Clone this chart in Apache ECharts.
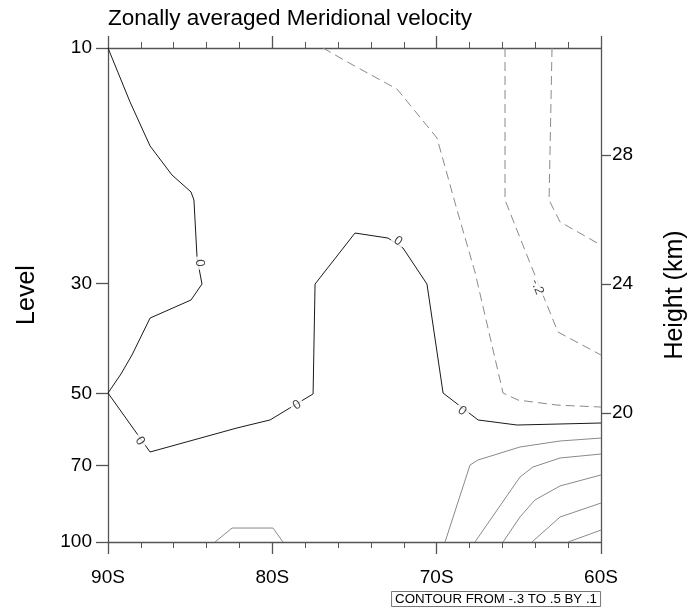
<!DOCTYPE html>
<html>
<head>
<meta charset="utf-8">
<script src="https://cdn.jsdelivr.net/npm/echarts@6/dist/echarts.min.js"></script>
<style>
  html, body { margin: 0; padding: 0; background: #ffffff; }
  #chart { width: 690px; height: 612px; }
</style>
</head>
<body>
<div id="chart"></div>
<script>
// Zonal-mean meridional velocity contours, latitude (deg, south negative) vs pressure level (hPa)

// Pressure tick levels on the left axis
const levelTicks = [10, 30, 50, 70, 100];
// Height ticks (km) on the right axis
const heightTicks = [20, 24, 28];
// Latitude ticks
const latTicks = [-90, -80, -70, -60];

// Contour 0
const zeroLat = [-90, -88.66, -87.44, -86.11, -84.95, -84.77, -84.58, -84.28, -84.95, -87.44, -88.54, -89.21, -90,
                 -87.44, -82.15, -80.14, -77.52, -77.40, -74.97, -72.96, -72.05, -70.59, -69.61, -67.48, -65.11, -60];
const zeroP   = [10, 12.86, 15.79, 18.07, 19.56, 20.31, 26.61, 30.05, 32.37, 35.21, 41.83, 45.70, 49.94,
                 65.74, 58.77, 56.62, 50.15, 30.05, 23.69, 24.25, 25.40, 30.05, 49.94, 56.62, 57.97, 57.43];

// Contour -0.1
const neg1Lat = [-76.92, -75.09, -72.41, -69.98, -68.76, -67.67, -65.96, -65.05, -62.68, -60];
const neg1P   = [10, 10.83, 12.11, 15.21, 21.28, 28.41, 49.94, 51.60, 52.82, 53.31];

// Contour -0.2
const neg2Lat = [-65.84, -65.84, -64.32, -62.62, -60];
const neg2P   = [10, 20.31, 27.24, 37.58, 41.83];

// Contour -0.3
const neg3Lat = [-62.98, -63.16, -62.49, -60];
const neg3P   = [10, 20.31, 22.50, 25.06];

// Contour 0.1 (two pieces)
const pos1aLat = [-60, -62.49, -64.93, -67.48, -67.97, -69.49];
const pos1aP   = [61.6, 62.45, 64.22, 68.23, 69.84, 100];
const pos1bLat = [-83.49, -82.45, -79.96, -79.35];
const pos1bP   = [100, 93.7, 93.7, 100];

// Contour 0.2
const pos2Lat = [-60, -62.49, -64.14, -64.93, -67.67];
const pos2P   = [66.36, 67.6, 70.5, 73.87, 100];

// Contour 0.3
const pos3Lat = [-60, -62.49, -64.02, -64.93, -65.96];
const pos3P   = [73.17, 77.0, 82.2, 89.0, 100];

// Contour 0.4
const pos4Lat = [-60, -62.49, -64.2];
const pos4P   = [83.4, 89.0, 100];

// Contour 0.5
const pos5Lat = [-60, -62.0];
const pos5P   = [94.6, 100];

// Inline contour labels
const labelText = ['0', '0', '0', '0', '0', '-.2'];
const labelLat  = [-84.43, -88.05, -78.50, -72.35, -68.46, -63.89];
const labelP    = [27.24, 62.45, 52.8, 24.59, 54.3, 30.47];
const labelRot  = [-85, -54, 31, -34, -38, -68];

// Height (km) -> pressure (hPa), exponential atmosphere
const P_REF = 54.8, H_REF = 20, SCALE_H = 6.65;
const heightToP = h => P_REF * Math.exp(-(h - H_REF) / SCALE_H);

const lg = Math.log10;
const toPts = (lats, ps) => lats.map((x, i) => [x, lg(ps[i])]);

const contours = [
  { level: 0,    lat: zeroLat,  p: zeroP },
  { level: -0.1, lat: neg1Lat,  p: neg1P },
  { level: -0.2, lat: neg2Lat,  p: neg2P },
  { level: -0.3, lat: neg3Lat,  p: neg3P },
  { level: 0.1,  lat: pos1aLat, p: pos1aP },
  { level: 0.1,  lat: pos1bLat, p: pos1bP },
  { level: 0.2,  lat: pos2Lat,  p: pos2P },
  { level: 0.3,  lat: pos3Lat,  p: pos3P },
  { level: 0.4,  lat: pos4Lat,  p: pos4P },
  { level: 0.5,  lat: pos5Lat,  p: pos5P }
];

function styleFor(level) {
  if (level < 0) return { color: '#8a8a8a', width: 1, type: [9, 5] };
  if (level === 0) return { color: '#1a1a1a', width: 1, type: 'solid' };
  return { color: '#8a8a8a', width: 1, type: 'solid' };
}

const FONT = 'Liberation Sans, Arial, Helvetica, sans-serif';
const AXIS_COLOR = '#555555';
const frame = { show: true, lineStyle: { color: AXIS_COLOR, width: 1.3 } };
const majorTick = len => ({ show: true, length: len, lineStyle: { color: AXIS_COLOR, width: 1.3 } });

const series = contours.map(c => ({
  type: 'line',
  data: toPts(c.lat, c.p),
  showSymbol: false,
  symbol: 'none',
  silent: true,
  lineStyle: styleFor(c.level),
  z: 2
}));

series.push({
  type: 'scatter',
  symbolSize: 0,
  silent: true,
  z: 5,
  data: labelText.map((t, i) => ({
    name: t,
    value: [labelLat[i], lg(labelP[i])],
    label: { rotate: labelRot[i] }
  })),
  label: {
    show: true,
    position: 'inside',
    formatter: p => p.name,
    fontFamily: FONT,
    fontSize: 13,
    color: '#111',
    backgroundColor: '#ffffff',
    padding: [0, 3]
  }
});

const chart = echarts.init(document.getElementById('chart'), null, { renderer: 'canvas' });
chart.setOption({
  animation: false,
  backgroundColor: '#ffffff',
  title: [
    {
      text: 'Zonally averaged Meridional velocity',
      left: 108, top: 7, padding: 0,
      textStyle: { fontFamily: FONT, fontSize: 22.5, fontWeight: 'normal', color: '#000' }
    },
    {
      text: 'CONTOUR FROM -.3 TO .5 BY .1',
      right: 89, top: 591,
      padding: [2, 4, 1, 4],
      borderColor: '#777',
      borderWidth: 1,
      textStyle: { fontFamily: FONT, fontSize: 13.3, fontWeight: 'normal', color: '#000' }
    }
  ],
  grid: { left: 108, top: 48, right: 89, bottom: 70, containLabel: false, outerBoundsMode: 'none' },
  xAxis: [
    {
      type: 'value', position: 'bottom', min: -90, max: -60, interval: 10,
      axisLine: frame,
      axisTick: majorTick(12),
      minorTick: { show: true, splitNumber: 5, length: 6, lineStyle: { color: AXIS_COLOR, width: 1 } },
      splitLine: { show: false },
      axisLabel: {
        margin: 26, fontFamily: FONT, fontSize: 19, color: '#000',
        customValues: latTicks,
        formatter: v => Math.abs(Math.round(v)) + 'S'
      }
    },
    {
      type: 'value', position: 'top', min: -90, max: -60, interval: 10,
      axisLine: frame,
      axisTick: majorTick(12),
      minorTick: { show: true, splitNumber: 5, length: 6, lineStyle: { color: AXIS_COLOR, width: 1 } },
      splitLine: { show: false },
      axisLabel: { show: false }
    }
  ],
  yAxis: [
    {
      type: 'value', position: 'left', inverse: true, min: 1, max: 2,
      name: 'Level', nameLocation: 'middle', nameGap: 68, nameRotate: 90,
      nameTextStyle: { fontFamily: FONT, fontSize: 25, color: '#000' },
      axisLine: frame,
      axisTick: Object.assign(majorTick(12), { customValues: levelTicks.map(lg) }),
      splitLine: { show: false },
      axisLabel: {
        margin: 16, fontFamily: FONT, fontSize: 19, color: '#000',
        customValues: levelTicks.map(lg),
        formatter: v => String(Math.round(Math.pow(10, v)))
      }
    },
    {
      type: 'value', position: 'right', inverse: true, min: 1, max: 2,
      name: 'Height (km)', nameLocation: 'middle', nameGap: 62, nameRotate: 90,
      nameTextStyle: { fontFamily: FONT, fontSize: 25, color: '#000' },
      axisLine: frame,
      axisTick: Object.assign(majorTick(10), { customValues: heightTicks.map(h => lg(heightToP(h))) }),
      splitLine: { show: false },
      axisLabel: {
        margin: 11, fontFamily: FONT, fontSize: 19, color: '#000',
        customValues: heightTicks.map(h => lg(heightToP(h))),
        formatter: v => String(Math.round(H_REF - SCALE_H * Math.log(Math.pow(10, v) / P_REF)))
      }
    }
  ],
  series: series
});
</script>
</body>
</html>
